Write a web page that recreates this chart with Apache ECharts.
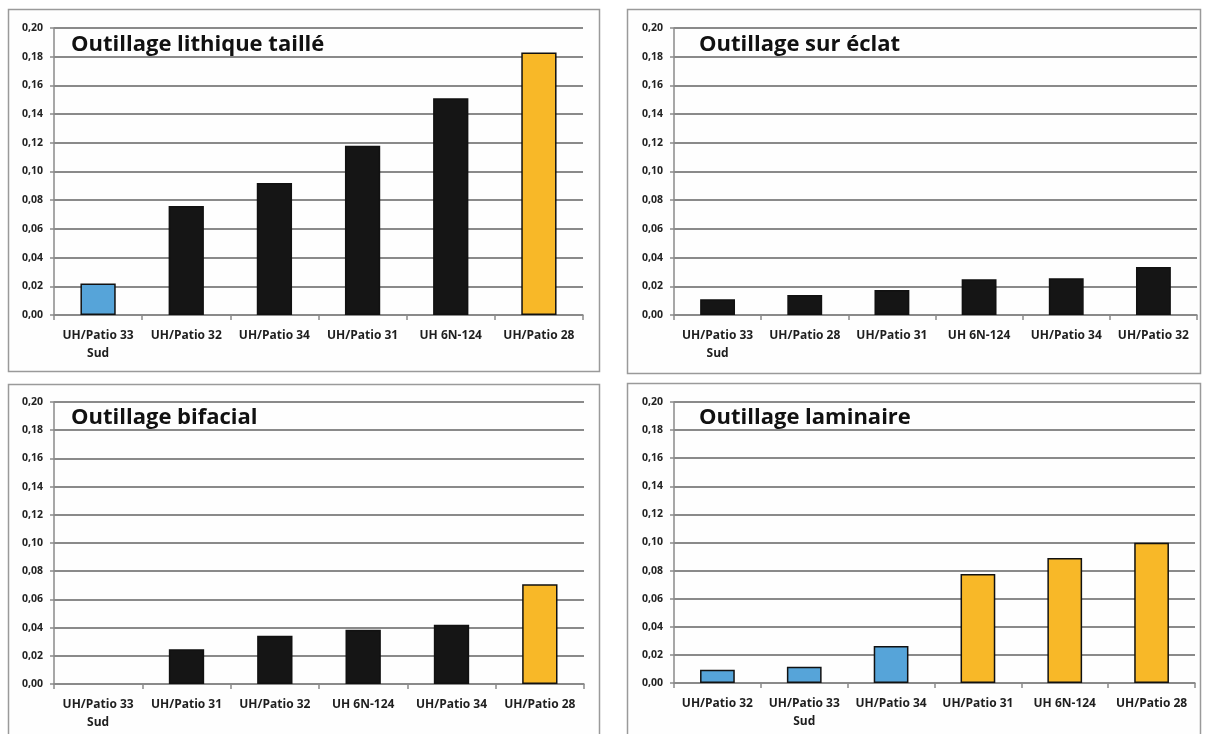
<!DOCTYPE html>
<html>
<head>
<meta charset="utf-8">
<script src="https://cdn.jsdelivr.net/npm/echarts@6/dist/echarts.min.js"></script>
<style>
html,body{margin:0;padding:0;background:#ffffff;}
#chart{width:1212px;height:734px;}
</style>
</head>
<body>
<div id="chart"></div>
<script>
// ---- Data ----
const titles = ['Outillage lithique taillé', 'Outillage sur éclat', 'Outillage bifacial', 'Outillage laminaire'];

const lithiqueCats = ['UH/Patio 33\nSud', 'UH/Patio 32', 'UH/Patio 34', 'UH/Patio 31', 'UH 6N-124', 'UH/Patio 28'];
const lithiqueVals = [0.022, 0.076, 0.092, 0.118, 0.151, 0.183];
const lithiqueGroups = ['bas', 'moyen', 'moyen', 'moyen', 'moyen', 'haut'];

const eclatCats = ['UH/Patio 33\nSud', 'UH/Patio 28', 'UH/Patio 31', 'UH 6N-124', 'UH/Patio 34', 'UH/Patio 32'];
const eclatVals = [0.011, 0.014, 0.0175, 0.025, 0.0256, 0.0335];
const eclatGroups = ['moyen', 'moyen', 'moyen', 'moyen', 'moyen', 'moyen'];

const bifacialCats = ['UH/Patio 33\nSud', 'UH/Patio 31', 'UH/Patio 32', 'UH 6N-124', 'UH/Patio 34', 'UH/Patio 28'];
const bifacialVals = [0, 0.0246, 0.0343, 0.0385, 0.042, 0.0708];
const bifacialGroups = ['bas', 'moyen', 'moyen', 'moyen', 'moyen', 'haut'];

const laminaireCats = ['UH/Patio 32', 'UH/Patio 33\nSud', 'UH/Patio 34', 'UH/Patio 31', 'UH 6N-124', 'UH/Patio 28'];
const laminaireVals = [0.0095, 0.0116, 0.0263, 0.0776, 0.089, 0.0999];
const laminaireGroups = ['bas', 'bas', 'bas', 'haut', 'haut', 'haut'];

const yTickMin = 0, yTickMax = 0.2, yTickStep = 0.02;

// ---- Styles ----
const groupColor = { bas: '#56a4d9', moyen: '#151515', haut: '#f8b828' };
const gridColor = '#8a8a8a';
const font = '"Open Sans"';

const panels = [
  { cats: lithiqueCats, vals: lithiqueVals, groups: lithiqueGroups,
    grid: { left: 54, top: 28, width: 529, height: 287 },
    box: { x: 8, y: 9, w: 591, h: 362 }, title: { x: 71, y: 45 } },
  { cats: eclatCats, vals: eclatVals, groups: eclatGroups,
    grid: { left: 674, top: 28, width: 523, height: 287 },
    box: { x: 627, y: 9, w: 573, h: 364 }, title: { x: 699, y: 45 } },
  { cats: bifacialCats, vals: bifacialVals, groups: bifacialGroups,
    grid: { left: 54, top: 402, width: 530, height: 282 },
    box: { x: 8, y: 384, w: 591, h: 360 }, title: { x: 71, y: 418 } },
  { cats: laminaireCats, vals: laminaireVals, groups: laminaireGroups,
    grid: { left: 674, top: 402, width: 521, height: 281 },
    box: { x: 627, y: 383, w: 573, h: 360 }, title: { x: 699, y: 418 } }
];

const fmt = v => v.toFixed(2).replace('.', ',');

const option = {
  backgroundColor: '#ffffff',
  animation: false,
  grid: [], xAxis: [], yAxis: [], series: [], graphic: []
};

panels.forEach((p, i) => {
  option.graphic.push({
    type: 'rect', silent: true, z: -10,
    shape: { x: p.box.x + 0.5, y: p.box.y + 0.5, width: p.box.w, height: p.box.h },
    style: { fill: '#fefefe', stroke: '#9a9a9a', lineWidth: 1.5 }
  });
  option.graphic.push({
    type: 'text', silent: true, z: 10,
    x: p.title.x, y: p.title.y,
    style: { text: titles[i], font: 'bold 22px ' + font, fill: '#111', textVerticalAlign: 'middle' }
  });
  option.grid.push(Object.assign({ containLabel: false }, p.grid));
  option.xAxis.push({
    type: 'category', gridIndex: i, data: p.cats,
    axisLine: { show: true, lineStyle: { color: gridColor, width: 1.5 } },
    axisTick: { show: true, length: 5, alignWithLabel: false, lineStyle: { color: gridColor, width: 1.5 } },
    axisLabel: { interval: 0, margin: 12, color: '#1e1e1e', fontFamily: 'Open Sans', fontWeight: 'bold', fontSize: 12, lineHeight: 18 },
    splitLine: { show: false }
  });
  option.yAxis.push({
    type: 'value', gridIndex: i, min: yTickMin, max: yTickMax, interval: yTickStep,
    axisLine: { show: true, lineStyle: { color: gridColor, width: 1.5 } },
    axisTick: { show: true, length: 4, lineStyle: { color: gridColor, width: 1.5 } },
    axisLabel: { margin: 11, color: '#222', fontFamily: 'Open Sans', fontWeight: 'bold', fontSize: 10.5, formatter: fmt },
    splitLine: { show: true, lineStyle: { color: gridColor, width: 2 } }
  });
  option.series.push({
    type: 'bar', xAxisIndex: i, yAxisIndex: i, barWidth: '40%',
    data: p.vals.map((v, k) => ({
      value: v,
      itemStyle: { color: groupColor[p.groups[k]], borderColor: '#111', borderWidth: v > 0 ? 1.5 : 0 }
    }))
  });
});

const chart = echarts.init(document.getElementById('chart'), null, { renderer: 'canvas' });
chart.setOption(option);
</script>
</body>
</html>
